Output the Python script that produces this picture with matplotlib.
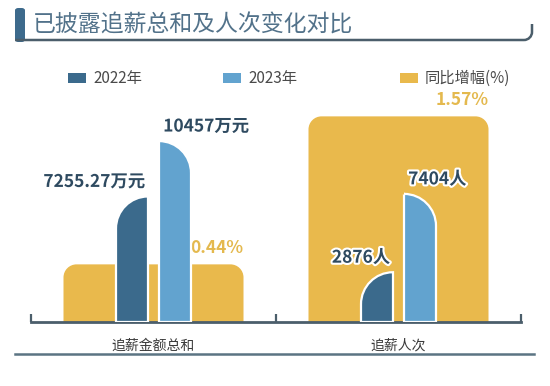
import matplotlib
matplotlib.use("Agg")
import matplotlib.pyplot as plt
from matplotlib.path import Path
from matplotlib.patches import PathPatch, Rectangle, FancyBboxPatch
import matplotlib.patheffects as pe

plt.rcParams['font.family'] = ['Noto Sans CJK SC', 'DejaVu Sans']

# ---------------- data ----------------
title = "已披露追薪总和及人次变化对比"
categories = ["追薪金额总和", "追薪人次"]
series_names = ["2022年", "2023年", "同比增幅(%)"]
values_2022 = [7255.27, 2876]
values_2023 = [10457, 7404]
growth_pct = [0.44, 1.57]
labels_2022 = ["7255.27万元", "2876人"]
labels_2023 = ["10457万元", "7404人"]
labels_growth = ["0.44%", "1.57%"]

# ---------------- style ----------------
C_DARK = "#3B6A8C"
C_LIGHT = "#62A3CF"
C_YEL = "#E9B94C"
C_YEL_TXT = "#E4B94E"
C_LINE = "#4B5E6B"
C_TITLE = "#52728A"
C_LBL = "#2E4A60"

W, H, DPI = 550, 386, 100
fig = plt.figure(figsize=(W / DPI, H / DPI), dpi=DPI)
fig.patch.set_facecolor("white")


def fx(x):
    return x / W


def fy(y):
    return 1 - y / H


# axes geometry (pixels)
AX_L, AX_R, AX_B, AX_T = 31, 521, 322, 100
ax = fig.add_axes([fx(AX_L), fy(AX_B), (AX_R - AX_L) / W, (AX_B - AX_T) / H])
ax2 = ax.twinx()
ax.set_xlim(-0.5, 1.5)
ax2.set_xlim(-0.5, 1.5)
ax.set_ylim(0, 1.695)        # yellow (growth) scale
ax2.set_ylim(0, 12832)       # blue bars scale
for a in (ax, ax2):
    a.patch.set_visible(False)
    for s in a.spines.values():
        s.set_visible(False)
    a.set_yticks([])
ax2.set_xticks([])

# baseline + ticks
ax.spines['bottom'].set_visible(True)
ax.spines['bottom'].set_color(C_LINE)
ax.spines['bottom'].set_linewidth(2)
ax.spines['bottom'].set_zorder(5)
ax.set_xticks([-0.5, 0.5, 1.5])
ax.set_xticklabels([])
ax.tick_params(axis='x', direction='in', length=6, width=1.6, color=C_LINE)

ax_w_px = AX_R - AX_L
ax_h_px = AX_B - AX_T
px_per_x = ax_w_px / 2.0


def rounded_bar(a, xc, width, height, r_left_px, r_right_px, color, ylim_top, z=2, lw=1.6):
    px_per_y = ax_h_px / ylim_top
    x0, x1 = xc - width / 2, xc + width / 2
    rlx, rly = r_left_px / px_per_x, r_left_px / px_per_y
    rrx, rry = r_right_px / px_per_x, r_right_px / px_per_y
    k = 0.5523
    verts = [(x0, 0)]
    codes = [Path.MOVETO]
    if r_left_px > 0:
        verts += [(x0, height - rly), (x0, height - rly + k * rly),
                  (x0 + rlx - k * rlx, height), (x0 + rlx, height)]
        codes += [Path.LINETO, Path.CURVE4, Path.CURVE4, Path.CURVE4]
    else:
        verts += [(x0, height)]
        codes += [Path.LINETO]
    if r_right_px > 0:
        verts += [(x1 - rrx, height), (x1 - rrx + k * rrx, height),
                  (x1, height - rry + k * rry), (x1, height - rry)]
        codes += [Path.LINETO, Path.CURVE4, Path.CURVE4, Path.CURVE4]
    else:
        verts += [(x1, height)]
        codes += [Path.LINETO]
    verts += [(x1, 0), (x0, 0)]
    codes += [Path.LINETO, Path.CLOSEPOLY]
    p = PathPatch(Path(verts, codes), facecolor=color, edgecolor="white",
                  linewidth=lw, zorder=z)
    a.add_patch(p)
    return x0, x1


yel_w = 180 / px_per_x
bar_w = 32 / px_per_x
off = 21.5 / px_per_x

for i in range(len(categories)):
    # growth (yellow) background bar
    yx0, yx1 = rounded_bar(ax, i, yel_w, growth_pct[i], 13, 13, C_YEL,
                           1.695, z=1, lw=0)
    ax.annotate(labels_growth[i], (yx1, growth_pct[i]), xytext=(0, 5),
                textcoords="offset points", ha="right", va="bottom",
                fontsize=12.5, fontweight="bold", color=C_YEL_TXT)
    # 2022 bar
    dx0, dx1 = rounded_bar(ax2, i - off, bar_w, values_2022[i], 32, 0,
                           C_DARK, 12832, z=3)
    ax2.annotate(labels_2022[i], (dx1, values_2022[i]), xytext=(-2, 4),
                 textcoords="offset points", ha="right", va="bottom",
                 fontsize=12.5, fontweight="bold", color=C_LBL,
                 path_effects=[pe.withStroke(linewidth=3, foreground="white")])
    # 2023 bar
    lx0, lx1 = rounded_bar(ax2, i + off, bar_w, values_2023[i], 0, 32,
                           C_LIGHT, 12832, z=3)
    ax2.annotate(labels_2023[i], (lx0, values_2023[i]), xytext=(3, 4),
                 textcoords="offset points", ha="left", va="bottom",
                 fontsize=12.5, fontweight="bold", color=C_LBL,
                 path_effects=[pe.withStroke(linewidth=3, foreground="white")])
    # category label
    ax.annotate(categories[i], (i, 0), xytext=(0, -17), textcoords="offset points",
                ha="center", va="center", fontsize=10, color="#3A3A3A")

# ---------------- title block ----------------
fig.patches.append(FancyBboxPatch((fx(15), fy(42)), 10 / W, 34 / H,
                                  boxstyle="round,pad=0,rounding_size=0.006",
                                  transform=fig.transFigure, facecolor="#3D6A8C",
                                  edgecolor="none"))
fig.text(fx(33), fy(25), title, fontsize=16.5, color=C_TITLE, va="center", ha="left")

k = 0.5523
r = 8
uv = [(fx(15), fy(40)), (fx(532 - r), fy(40)),
      (fx(532 - r + k * r), fy(40)), (fx(532), fy(40 - r + k * r)), (fx(532), fy(40 - r)),
      (fx(532), fy(24))]
uc = [Path.MOVETO, Path.LINETO, Path.CURVE4, Path.CURVE4, Path.CURVE4, Path.LINETO]
fig.patches.append(PathPatch(Path(uv, uc), transform=fig.transFigure, fill=False,
                             edgecolor=C_LINE, linewidth=1.8))

# bottom line
fig.add_artist(plt.Line2D([fx(15), fx(534)], [fy(354), fy(354)], color="#5B7483",
                          linewidth=1.8, transform=fig.transFigure))

# ---------------- legend ----------------
leg_colors = [C_DARK, C_LIGHT, C_YEL]
leg_x = [68, 223, 400]
for name, col, x in zip(series_names, leg_colors, leg_x):
    fig.patches.append(Rectangle((fx(x), fy(83)), 18 / W, 10 / H,
                                 transform=fig.transFigure, facecolor=col,
                                 edgecolor="none"))
    fig.text(fx(x + 25), fy(78), name, fontsize=11, color="#4A4A4A",
             va="center", ha="left")

fig.savefig("out.png", dpi=DPI, facecolor="white")
